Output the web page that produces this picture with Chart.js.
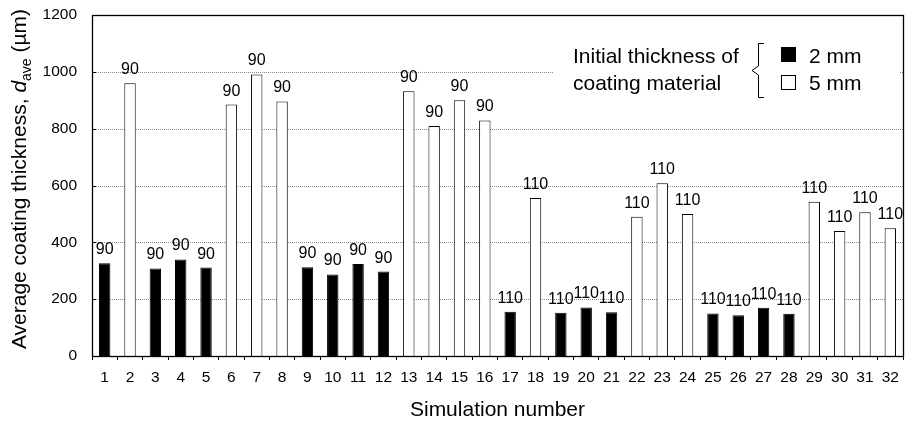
<!DOCTYPE html>
<html>
<head>
<meta charset="utf-8">
<script src="https://cdn.jsdelivr.net/npm/chart.js@4.4.1/dist/chart.umd.min.js"></script>
<style>
  html, body { margin: 0; padding: 0; background: #fff; }
  #wrap { width: 906px; height: 423px; }
</style>
</head>
<body>
<div id="wrap"><canvas id="c" width="906" height="423"></canvas></div>
<script>
// ---- data ----
const categories = ['1','2','3','4','5','6','7','8','9','10','11','12','13','14','15','16',
                    '17','18','19','20','21','22','23','24','25','26','27','28','29','30','31','32'];
const thickness = [326, 960, 308, 340, 311, 885, 991, 896, 312, 287, 324, 297, 932, 809, 900, 829,
                   156, 556, 152, 171, 154, 490, 608, 500, 150, 143, 170, 149, 543, 440, 506, 450];
const initialThickness = ['2 mm','5 mm','2 mm','2 mm','2 mm','5 mm','5 mm','5 mm',
                          '2 mm','2 mm','2 mm','2 mm','5 mm','5 mm','5 mm','5 mm',
                          '2 mm','5 mm','2 mm','2 mm','2 mm','5 mm','5 mm','5 mm',
                          '2 mm','2 mm','2 mm','2 mm','5 mm','5 mm','5 mm','5 mm'];
const barLabels = ['90','90','90','90','90','90','90','90','90','90','90','90','90','90','90','90',
                   '110','110','110','110','110','110','110','110','110','110','110','110','110','110','110','110'];
const yTicks = [0, 200, 400, 600, 800, 1000, 1200];
const legendTitle = ['Initial thickness of', 'coating material'];
const legendItems = ['2 mm', '5 mm'];
const xTitle = 'Simulation number';

// ---- style ----
const FONT = '"Liberation Sans", Arial, Helvetica, sans-serif';
const fillFor = t => t === '2 mm' ? '#000000' : '#ffffff';

const decor = {
  id: 'decor',
  beforeDatasetsDraw(chart) {
    const { ctx, chartArea: a, scales: { y } } = chart;
    ctx.save();
    ctx.strokeStyle = '#8a8a8a';
    ctx.lineWidth = 1;
    ctx.setLineDash([1, 1]);
    yTicks.forEach(v => {
      if (v === 0 || v === 1200) return;
      const py = Math.round(y.getPixelForValue(v)) + 0.5;
      ctx.beginPath(); ctx.moveTo(a.left, py); ctx.lineTo(a.right, py); ctx.stroke();
    });
    ctx.setLineDash([]);
    ctx.fillStyle = '#fff';
    ctx.fillRect(553, 34, a.right - 556, 70);
    ctx.restore();
  },
  afterDatasetsDraw(chart) {
    const { ctx, chartArea: a, scales: { y } } = chart;
    const meta = chart.getDatasetMeta(0);
    ctx.save();
    ctx.fillStyle = '#000';
    ctx.font = '16px ' + FONT;
    ctx.textAlign = 'center';
    ctx.textBaseline = 'alphabetic';
    meta.data.forEach((bar, i) => {
      ctx.fillText(barLabels[i], bar.x, bar.y - 9);
    });
    // frame
    ctx.strokeStyle = '#000';
    ctx.lineWidth = 1.3;
    ctx.strokeRect(Math.round(a.left) + 0.5, Math.round(a.top) + 0.5,
                   Math.round(a.right - a.left), Math.round(a.bottom - a.top));
    // inward y ticks
    ctx.lineWidth = 1;
    yTicks.forEach(v => {
      const py = Math.round(y.getPixelForValue(v)) + 0.5;
      ctx.beginPath(); ctx.moveTo(a.left, py); ctx.lineTo(a.left + 4, py); ctx.stroke();
    });
    // x title
    ctx.font = '21px ' + FONT;
    ctx.textAlign = 'center';
    ctx.fillText(xTitle, (a.left + a.right) / 2, 416);
    // y title
    const parts = [
      { t: 'Average coating thickness, ', f: '21px ' + FONT, dy: 0 },
      { t: 'd', f: 'italic 21px ' + FONT, dy: 0 },
      { t: 'ave', f: '14px ' + FONT, dy: 5 },
      { t: ' (\u00b5m)', f: '21px ' + FONT, dy: 0 }
    ];
    let total = 0;
    parts.forEach(p => { ctx.font = p.f; p.w = ctx.measureText(p.t).width; total += p.w; });
    ctx.save();
    ctx.translate(26, 179);
    ctx.rotate(-Math.PI / 2);
    ctx.textAlign = 'left';
    let xx = -total / 2;
    parts.forEach(p => { ctx.font = p.f; ctx.fillText(p.t, xx, p.dy); xx += p.w; });
    ctx.restore();
    // legend
    ctx.font = '21px ' + FONT;
    ctx.textAlign = 'left';
    ctx.fillText(legendTitle[0], 573, 63);
    ctx.fillText(legendTitle[1], 573, 90);
    ctx.lineWidth = 1;
    ctx.beginPath();
    ctx.moveTo(764, 43.5); ctx.lineTo(758.5, 43.5); ctx.lineTo(758.5, 66);
    ctx.lineTo(752, 70.5); ctx.lineTo(758.5, 75); ctx.lineTo(758.5, 97.5); ctx.lineTo(764, 97.5);
    ctx.stroke();
    ctx.fillStyle = fillFor(legendItems[0]);
    ctx.fillRect(781, 47, 15, 15);
    ctx.strokeRect(781.5, 47.5, 14, 14);
    ctx.fillStyle = fillFor(legendItems[1]);
    ctx.fillRect(781, 75, 15, 15);
    ctx.strokeRect(781.5, 75.5, 14, 14);
    ctx.fillStyle = '#000';
    ctx.fillText(legendItems[0], 809, 63);
    ctx.fillText(legendItems[1], 809, 90);
    ctx.restore();
  }
};

new Chart(document.getElementById('c'), {
  type: 'bar',
  data: {
    labels: categories,
    datasets: [{
      data: thickness,
      backgroundColor: initialThickness.map(fillFor),
      borderColor: '#000',
      borderWidth: 1,
      barPercentage: 0.45,
      categoryPercentage: 1.0
    }]
  },
  options: {
    responsive: false,
    animation: false,
    devicePixelRatio: 1,
    layout: { padding: { top: 15, right: 3, left: 0, bottom: 0 } },
    plugins: { legend: { display: false }, tooltip: { enabled: false } },
    scales: {
      x: {
        offset: true,
        grid: { display: true, drawOnChartArea: false, drawTicks: true, tickLength: 4,
                color: '#000', offset: true },
        border: { display: false },
        ticks: { color: '#000', font: { family: FONT, size: 15.5 }, padding: 8,
                 maxRotation: 0, autoSkip: false },
        afterFit(s) { s.height = 67; s.paddingLeft = 0; s.paddingRight = 0; }
      },
      y: {
        min: 0, max: 1200,
        grid: { display: false, drawTicks: false },
        border: { display: false },
        ticks: { stepSize: 200, color: '#000', font: { family: FONT, size: 15.5 }, padding: 15,
                 callback: v => String(v) },
        afterFit(s) { s.width = 92; s.paddingTop = 0; s.paddingBottom = 0; }
      }
    }
  },
  plugins: [decor]
});
</script>
</body>
</html>
